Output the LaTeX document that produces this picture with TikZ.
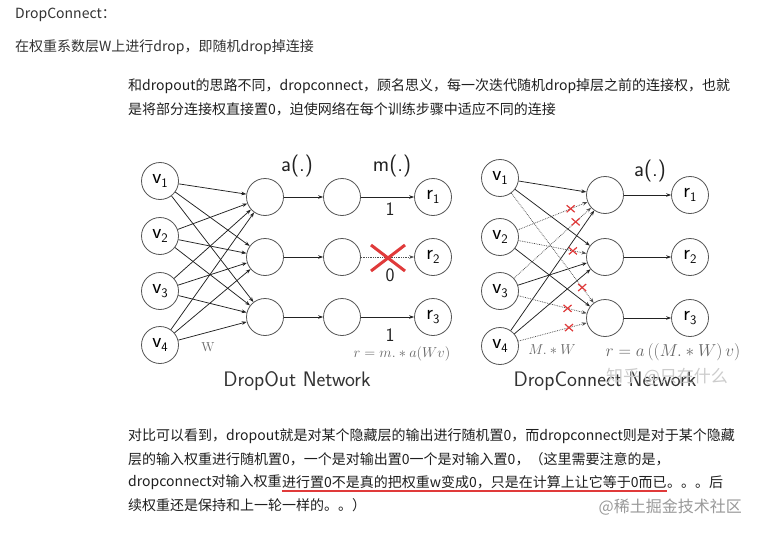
\documentclass[tikz,border=0pt]{standalone}
\usepackage{fontspec}
\usetikzlibrary{arrows.meta}
\newfontfamily\cjk{Noto Sans CJK SC}
\definecolor{txtc}{HTML}{1F1F1F}
\definecolor{headc}{HTML}{333333}
\definecolor{ncol}{HTML}{555555}
\definecolor{ecol}{HTML}{222222}
\definecolor{xred}{HTML}{E03A3A}
\definecolor{formc}{HTML}{666666}
\newcommand\nlab[2]{{\fontsize{21}{21}\selectfont #1}\raisebox{-4pt}{\fontsize{13}{13}\selectfont #2}}
\tikzset{
  neuron/.style={circle, draw=ncol, line width=0.8pt, minimum size=37pt, inner sep=0pt, font=\sffamily},
  edge/.style={-{Stealth[length=5pt,width=3.6pt]}, line width=0.75pt, draw=ecol},
  dedge/.style={edge, densely dotted, draw=ecol!80},
  txtline/.style={anchor=west, inner sep=0pt, text=txtc, font=\cjk\fontsize{14}{16}\selectfont},
  lbl/.style={inner sep=0pt, text=ecol, font=\sffamily\fontsize{22}{22}\selectfont},
  digit/.style={inner sep=0pt, text=ecol, font=\sffamily\fontsize{19}{19}\selectfont},
  caption/.style={inner sep=0pt, text=headc, font=\sffamily\fontsize{21}{21}\selectfont},
  smallx/.style={xred, line width=1.2pt},
}
\begin{document}
\begin{tikzpicture}[x=1pt,y=-1pt]
\useasboundingbox (0,0) rectangle (759,532);
\fill[white] (0,0) rectangle (759,532);

% ---- header text ----
\node[txtline, text=headc] (t0) at (15,15) {DropConnect：};
\node[txtline, text=headc] (t1) at (15,47) {在权重系数层W上进行drop，即随机drop掉连接};
\node[txtline] (p1) at (128,86) {和dropout的思路不同，dropconnect，顾名思义，每一次迭代随机drop掉层之前的连接权，也就};
\node[txtline] (p2) at (128,109) {是将部分连接权直接置0，迫使网络在每个训练步骤中适应不同的连接};

% ---- DropOut network ----
\node[neuron] (v1) at (160,181) {\nlab{v}{1}};
\node[neuron] (v2) at (160,236) {\nlab{v}{2}};
\node[neuron] (v3) at (160,291) {\nlab{v}{3}};
\node[neuron] (v4) at (160,345) {\nlab{v}{4}};
\node[neuron] (h1) at (265,197) {};
\node[neuron] (h2) at (265,257) {};
\node[neuron] (h3) at (265,317) {};
\node[neuron] (m1) at (342,197) {};
\node[neuron] (m2) at (342,257) {};
\node[neuron] (m3) at (342,317) {};
\node[neuron] (r1) at (433,197) {\nlab{r}{1}};
\node[neuron] (r2) at (433,257) {\nlab{r}{2}};
\node[neuron] (r3) at (433,317) {\nlab{r}{3}};
\foreach \i in {1,...,4}{\foreach \j in {1,2,3}{\draw[edge] (v\i) -- (h\j);}}
\foreach \j in {1,2,3}{\draw[edge] (h\j) -- (m\j);}
\draw[edge] (m1) -- (r1);
\draw[dedge] (m2) -- (r2);
\draw[edge] (m3) -- (r3);
\node[lbl] (la) at (297,166) {a(.)};
\node[lbl] (lm) at (392,166) {m(.)};
\node[digit] (one1) at (390,209) {1};
\node[digit] (zero) at (390,275) {0};
\node[digit] (one3) at (390,335) {1};
\coordinate (xa) at (371,245); \coordinate (xb) at (405,271);
\coordinate (xc) at (371,271); \coordinate (xd) at (405,245);
\draw[xred, line width=3pt] (xa) -- (xb);
\draw[xred, line width=3pt] (xc) -- (xd);
\node[inner sep=0pt, text=formc, font=\fontsize{13}{13}\selectfont] (lw) at (208,347) {W};
\node[inner sep=0pt, text=formc, font=\fontsize{15}{15}\selectfont] (f1) at (402,354) {$r = m.*a(Wv)$};
\node[caption] (cap1) at (297,381) {DropOut Network};

% ---- DropConnect network ----
\node[neuron] (cv1) at (500,178) {\nlab{v}{1}};
\node[neuron] (cv2) at (500,237) {\nlab{v}{2}};
\node[neuron] (cv3) at (500,291) {\nlab{v}{3}};
\node[neuron] (cv4) at (500,346) {\nlab{v}{4}};
\node[neuron] (ch1) at (605,195) {};
\node[neuron] (ch2) at (605,257) {};
\node[neuron] (ch3) at (605,318) {};
\node[neuron] (cr1) at (690,195) {\nlab{r}{1}};
\node[neuron] (cr2) at (690,257) {\nlab{r}{2}};
\node[neuron] (cr3) at (690,318) {\nlab{r}{3}};
\draw[edge] (cv1) -- (ch1);
\draw[edge] (cv1) -- (ch2);
\draw[edge] (cv2) -- (ch3);
\draw[edge] (cv3) -- (ch2);
\draw[edge] (cv4) -- (ch1);
\draw[edge] (cv4) -- (ch2);
\draw[dedge] (cv1) -- node[pos=0.86] (x1) {} (ch3);
\draw[dedge] (cv2) -- node[pos=0.76] (x2) {} (ch1);
\draw[dedge] (cv2) -- node[pos=0.80] (x3) {} (ch2);
\draw[dedge] (cv3) -- node[pos=0.80] (x4) {} (ch1);
\draw[dedge] (cv3) -- node[pos=0.72] (x5) {} (ch3);
\draw[dedge] (cv4) -- node[pos=0.74] (x6) {} (ch3);
\foreach \k in {1,...,6}{
  \draw[smallx] ([shift={(-4,-3.5)}]x\k.center) -- ([shift={(4,3.5)}]x\k.center);
  \draw[smallx] ([shift={(-4,3.5)}]x\k.center) -- ([shift={(4,-3.5)}]x\k.center);
}
\foreach \j in {1,2,3}{\draw[edge] (ch\j) -- (cr\j);}
\node[lbl] (ca) at (650,171) {a(.)};
\node[inner sep=0pt, text=formc, font=\fontsize{15}{15}\selectfont] (lmw) at (552,350) {$M.*W$};
\node[inner sep=0pt, text=formc, font=\fontsize{16}{16}\selectfont] (f2) at (673,352) {$r = a\left((M.*W)\,v\right)$};
\node[caption] (cap2) at (605,381) {DropConnect Network};
\node[inner sep=0pt, text=black!20, font=\cjk\fontsize{17}{17}\selectfont] (wm1) at (667,377) {知乎 @只在什么};

% ---- bottom paragraph ----
\node[txtline] (q1) at (128,436) {对比可以看到，dropout就是对某个隐藏层的输出进行随机置0，而dropconnect则是对于某个隐藏};
\node[txtline] (q2) at (128,459) {层的输入权重进行随机置0，一个是对输出置0一个是对输入置0，（这里需要注意的是，};
\node[txtline] (q3a) at (128,482) {dropconnect对输入权重};
\node[txtline] (q3b) at (q3a.east) {进行置0不是真的把权重w变成0，只是在计算上让它等于0而已};
\node[txtline] (q3c) at (q3b.east) {。。。后};
\draw[xred, line width=1.4pt] ([yshift=-2pt]q3b.south west) -- ([yshift=-2pt]q3b.south east);
\node[txtline] (q4) at (128,505) {续权重还是保持和上一轮一样的。。）};
\node[inner sep=0pt, anchor=east, text=black!40, font=\cjk\fontsize{16}{16}\selectfont] (wm2) at (742,507) {@稀土掘金技术社区};
\end{tikzpicture}
\end{document}
